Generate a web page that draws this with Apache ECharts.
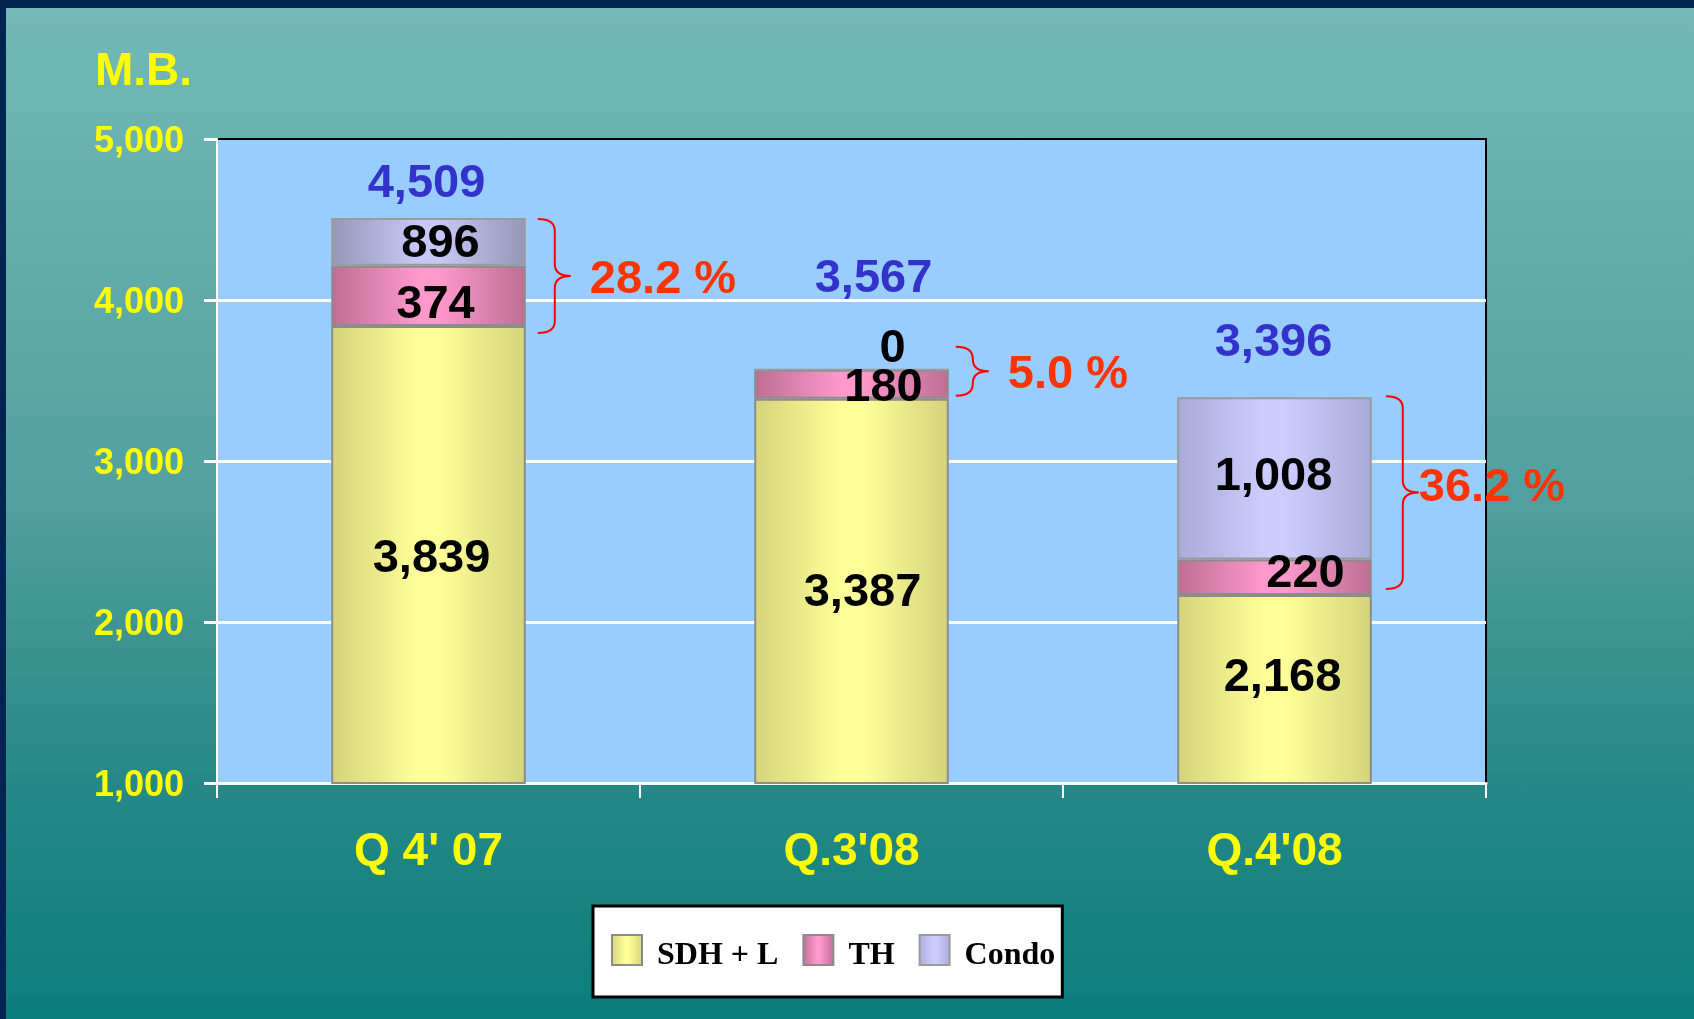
<!DOCTYPE html>
<html>
<head>
<meta charset="utf-8">
<script src="https://cdn.jsdelivr.net/npm/echarts@6/dist/echarts.min.js"></script>
<style>
  html, body { margin: 0; padding: 0; }
  #chart {
    width: 1694px; height: 1019px;
    background: linear-gradient(to bottom, #74B9B8 0%, #52A1A0 48%, #2A8A88 74%, #0A7E7B 100%);
    box-shadow: inset 6px 8px 0 #012453;
  }
</style>
</head>
<body>
<div id="chart"></div>
<script>
// ---- data ----
const categories = ["Q 4' 07", "Q.3'08", "Q.4'08"];
const seriesNames = ['SDH + L', 'TH', 'Condo'];
const sdhValues = [3839, 3387, 2168];       // drawn & printed
const thValues = [374, 180, 220];
const condoValues = [296, 0, 1008];         // drawn segment heights (as pictured)
const condoPrinted = [896, 0, 1008];        // numbers printed on the segments
const totals = [4509, 3567, 3396];
const percents = ['28.2 %', '5.0 %', '36.2 %'];
const yTicks = [1000, 2000, 3000, 4000, 5000];
const unitLabel = 'M.B.';

// ---- layout / style tweaks (pixel nudges, not data) ----
const sdhLabelOffset = [[3, 4], [11, 2], [8, -11]];
const thLabelOffset = [[7, 9], [32, 4], [31, -3]];
const condoLabelOffset = [[12, 2], [41, -21], [-1, -1]];
const totalLabelOffset = [[-2, -34], [22, -91], [-1, -54]];
const braceAdjust = [ // [topDy, bottomDy, gapFromBar, textGap, textDy]
  [1, 7, 12, 19, 4],
  [-23, -3, 7, 19, 4],
  [-1, -6, 14, 0, -5]
];
const condoShades = [['#9696B8', '#C8C8F6'], ['#ABABD8', '#CCCCFF'], ['#ABABD8', '#CCCCFF']];

const fmt = v => Number(v).toLocaleString('en-US');
const BAR_RATIO = 0.46;
const bigFont = 'Liberation Sans, Arial, sans-serif';
const serifFont = 'Liberation Serif, Times New Roman, serif';

function grad(edge, mid) {
  return {
    type: 'linear', x: 0, y: 0, x2: 1, y2: 0,
    colorStops: [
      { offset: 0, color: edge },
      { offset: 0.45, color: mid },
      { offset: 0.55, color: mid },
      { offset: 1, color: edge }
    ]
  };
}

function segLabel(printed) {
  return {
    show: true, position: 'inside', color: '#000', fontSize: 47, fontWeight: 'bold', fontFamily: bigFont,
    formatter: p => fmt(printed ? printed[p.dataIndex] : p.value)
  };
}
function withOffsets(values, offsets, shades) {
  return values.map((v, i) => {
    const item = { value: v, label: { offset: offsets[i] } };
    if (shades) item.itemStyle = { color: grad(shades[i][0], shades[i][1]) };
    return item;
  });
}

const chart = echarts.init(document.getElementById('chart'), null, { renderer: 'canvas' });

const option = {
  animation: false,
  backgroundColor: 'transparent',
  title: {
    text: unitLabel, left: 90, top: 44,
    textStyle: { color: '#FFFF00', fontSize: 46, fontWeight: 'bold', fontFamily: bigFont }
  },
  legend: {
    data: seriesNames,
    left: 593, top: 906,
    orient: 'horizontal',
    backgroundColor: '#FFFFFF', borderColor: '#000000', borderWidth: 3,
    padding: [28, 7, 25, 18],
    itemWidth: 30, itemHeight: 30, itemGap: 24,
    icon: 'rect',
    formatter: name => '{t|' + name + '}',
    textStyle: {
      color: '#000', fontSize: 32, fontWeight: 'bold', fontFamily: serifFont, padding: [0, 0, 0, 10],
      rich: { t: { color: '#000', fontSize: 32, fontWeight: 'bold', fontFamily: serifFont, lineHeight: 44, verticalAlign: 'bottom' } }
    }
  },
  grid: {
    left: 217, right: 208, top: 139, bottom: 236,
    show: true, backgroundColor: '#99CCFF', borderColor: '#000000', borderWidth: 2
  },
  xAxis: {
    type: 'category', data: categories,
    axisLine: { show: true, lineStyle: { color: '#FFFFFF', width: 3 } },
    axisTick: { show: true, alignWithLabel: false, length: 15, lineStyle: { color: '#FFFFFF', width: 2 } },
    axisLabel: { color: '#FFFF00', fontSize: 46, fontWeight: 'bold', fontFamily: bigFont, margin: 46 }
  },
  yAxis: {
    type: 'value', min: yTicks[0], max: yTicks[yTicks.length - 1], interval: 1000,
    axisLine: { show: true, lineStyle: { color: '#FFFFFF', width: 2 } },
    axisTick: { show: true, length: 13, lineStyle: { color: '#FFFFFF', width: 3 } },
    splitLine: { show: true, showMaxLine: false, showMinLine: false, lineStyle: { color: '#FFFFFF', width: 3 } },
    axisLabel: {
      color: '#FFFF00', fontSize: 36, fontWeight: 'bold', fontFamily: bigFont, margin: 33,
      verticalAlign: 'top', lineHeight: 6, formatter: v => fmt(v)
    }
  },
  series: [
    {
      name: seriesNames[0], type: 'bar', stack: 'q', barWidth: (BAR_RATIO * 100) + '%',
      itemStyle: { color: grad('#D3D37B', '#FFFF99'), borderColor: '#8C8C8C', borderWidth: 2 },
      label: segLabel(), data: withOffsets(sdhValues, sdhLabelOffset), z: 3
    },
    {
      name: seriesNames[1], type: 'bar', stack: 'q',
      itemStyle: { color: grad('#BD6E93', '#FF99CC'), borderColor: '#8C8C8C', borderWidth: 2 },
      label: segLabel(), data: withOffsets(thValues, thLabelOffset), z: 3
    },
    {
      name: seriesNames[2], type: 'bar', stack: 'q',
      itemStyle: { color: grad('#ABABD8', '#CCCCFF'), borderColor: '#9A9A9A', borderWidth: 2 },
      label: segLabel(condoPrinted), data: withOffsets(condoValues, condoLabelOffset, condoShades), z: 3
    },
    {
      type: 'custom', name: 'annotations', silent: true, z: 10,
      data: categories.map((c, i) => [i, totals[i], sdhValues[i]]),
      renderItem: function (params, api) {
        const i = api.value(0);
        const top = api.coord([i, api.value(1)]);
        const bot = api.coord([i, api.value(2)]);
        const band = api.size([1, 0])[0];
        const half = band * BAR_RATIO / 2;
        const adj = braceAdjust[i];
        const x0 = top[0] + half + adj[2];
        const yt = top[1] + adj[0];
        const yb = bot[1] + adj[1];
        const ym = (yt + yb) / 2;
        const w = 33, xm = x0 + 17, r = 12;
        const path = `M${x0} ${yt} Q${xm} ${yt} ${xm} ${yt + r} L${xm} ${ym - r} Q${xm} ${ym} ${x0 + w} ${ym} ` +
                     `Q${xm} ${ym} ${xm} ${ym + r} L${xm} ${yb - r} Q${xm} ${yb} ${x0} ${yb}`;
        const off = totalLabelOffset[i];
        return {
          type: 'group',
          children: [
            { type: 'path', shape: { pathData: path }, style: { fill: null, stroke: '#FF0000', lineWidth: 2 } },
            { type: 'text', x: x0 + w + adj[3], y: ym + adj[4],
              style: { text: percents[i], fill: '#FF3300', font: 'bold 47px ' + bigFont, textAlign: 'left', textVerticalAlign: 'middle' } },
            { type: 'text', x: top[0] + off[0], y: top[1] + off[1],
              style: { text: fmt(totals[i]), fill: '#3333CC', font: 'bold 47px ' + bigFont, textAlign: 'center', textVerticalAlign: 'middle' } }
          ]
        };
      }
    }
  ]
};
chart.setOption(option);
</script>
</body>
</html>
